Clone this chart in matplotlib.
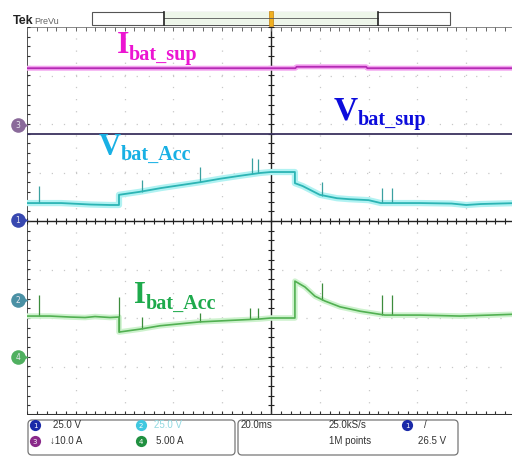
import matplotlib

matplotlib.use("Agg")
import matplotlib.pyplot as plt
import numpy as np
from matplotlib.patches import FancyBboxPatch, Rectangle

# time in ms (20 ms/div, trigger at 0), level in screen divisions (0 = centre line)
cyan_t = [-100, -86, -74, -66, -62.3, -62.3, -54, -45, -37, -29, -21, -13, -4.5, 0, 6, 9.8,
          9.8, 13, 20, 27, 32, 40, 45, 61, 74, 80, 86, 101]
cyan_v = [0.37, 0.37, 0.34, 0.33, 0.33, 0.54, 0.60, 0.68, 0.74, 0.80, 0.87, 0.93, 0.99, 1.01, 1.01, 1.01,
          0.78, 0.72, 0.54, 0.47, 0.45, 0.43, 0.37, 0.37, 0.36, 0.33, 0.35, 0.37]
cyan_spike_t = [-95, -53, -29, -7.8, -5.3, 21, 45.5, 49.6]
cyan_spike_lo = [0.37, 0.60, 0.80, 0.96, 0.98, 0.52, 0.37, 0.37]
cyan_spike_hi = [0.72, 0.85, 1.11, 1.30, 1.28, 0.80, 0.68, 0.68]

green_t = [-100, -90.6, -82.4, -76.2, -72.1, -66, -62.3, -62.3, -53.7, -45.5, -37.3, -29.1, -20.9, -12.7,
           -4.5, 0, 9.8, 9.8, 13.9, 18, 22.1, 28.3, 36.5, 46.7, 61.1, 77.5, 89.8, 101]
green_v = [-1.96, -1.96, -1.98, -1.99, -1.97, -1.99, -1.98, -2.29, -2.23, -2.16, -2.12, -2.08, -2.06, -2.04,
           -2.02, -2.00, -2.00, -1.24, -1.36, -1.55, -1.65, -1.77, -1.86, -1.94, -1.94, -1.96, -1.94, -1.92]
green_spike_t = [-95, -62.3, -53, -29, -8.5, -5.3, 21, 45.5, 49.6]
green_spike_lo = [-1.96, -2.29, -2.23, -2.08, -2.02, -2.02, -1.62, -1.94, -1.94]
green_spike_hi = [-1.53, -1.57, -1.98, -1.90, -1.79, -1.79, -1.27, -1.53, -1.53]

magenta_t = [-100, 10, 10.5, 39, 39.5, 101]
magenta_v = [3.15, 3.15, 3.18, 3.18, 3.15, 3.15]

navy_t = [-100, 101]
navy_v = [1.79, 1.79]

W, H = 512, 458
fig = plt.figure(figsize=(W / 100, H / 100), dpi=100)
fig.patch.set_facecolor("white")

# graticule: 10 x 8 divisions, left edge at x=27px, top at y=27px, ~48.8 px/div
ax = fig.add_axes([27 / W, (H - 415) / H, 488 / W, 388 / H])
ax.set_xlim(-100, 100)
ax.set_ylim(-4, 4)
for s in ax.spines.values():
    s.set_visible(False)
ax.set_xticks([])
ax.set_yticks([])

dots = (0, (1, 8.7))
for gx in np.arange(-80, 100, 20):
    if gx != 0:
        ax.axvline(gx, color="#c8c8c8", lw=0.9, ls=dots, zorder=1)
for gy in np.arange(-3, 4, 1):
    if gy != 0:
        ax.axhline(gy, color="#c8c8c8", lw=0.9, ls=dots, zorder=1)

ax.axvline(0, color="#222222", lw=1.0, zorder=2)
ax.axhline(0, color="#222222", lw=1.0, zorder=2)
ax.axvline(-100, color="#333333", lw=1.2, zorder=2)
ax.axhline(-4, color="#333333", lw=2.2, zorder=2)
ax.axhline(4, color="#888888", lw=0.7, zorder=2)

minor_x = np.arange(-100, 100.1, 4)
minor_y = np.arange(-4, 4.01, 0.2)
ax.vlines(minor_x, -0.06, 0.06, color="#222222", lw=0.8, zorder=2)
ax.vlines(minor_x, 3.92, 4.0, color="#666666", lw=0.7, zorder=2)
ax.vlines(minor_x, -4.0, -3.92, color="#333333", lw=0.8, zorder=2)
ax.hlines(minor_y, -1.2, 1.2, color="#222222", lw=0.8, zorder=2)
ax.hlines(minor_y, -100, -98.8, color="#333333", lw=0.8, zorder=2)

# traces with phosphor glow
ax.plot(magenta_t, magenta_v, color="#f4a4f0", lw=3.6, solid_capstyle="butt", zorder=3)
ax.plot(magenta_t, magenta_v, color="#b42ab4", lw=1.3, zorder=4)

ax.plot(navy_t, navy_v, color="#3a325e", lw=1.3, zorder=4)

ax.plot(cyan_t, cyan_v, color="#b0f2f2", lw=4.5, zorder=3)
ax.vlines(cyan_spike_t, cyan_spike_lo, cyan_spike_hi, color="#3aa0a0", lw=0.9, zorder=4)
ax.plot(cyan_t, cyan_v, color="#2cb4b4", lw=1.3, zorder=4)

ax.plot(green_t, green_v, color="#cdf2cd", lw=4.0, zorder=3)
ax.vlines(green_spike_t, green_spike_lo, green_spike_hi, color="#3c8c3c", lw=0.9, zorder=4)
ax.plot(green_t, green_v, color="#52b052", lw=1.2, zorder=4)

# overlay in pixel coordinates for the screen furniture and labels
ov = fig.add_axes([0, 0, 1, 1])
ov.set_xlim(0, W)
ov.set_ylim(H, 0)
ov.axis("off")

serif = "Liberation Serif"


def trace_label(x, y, big, sub, color, size=23, sub_dy=6):
    t = ov.text(x, y, big, color=color, fontsize=size, family=serif, weight="bold",
                ha="left", va="baseline")
    fig.canvas.draw()
    bb = t.get_window_extent()
    ov.text(bb.x1 / fig.dpi * 100 - 0.5, y + sub_dy, sub, color=color, fontsize=14.5,
            family=serif, weight="bold", ha="left", va="baseline")


trace_label(117, 53, "I", "bat_sup", "#ec14d2", size=23, sub_dy=7)
trace_label(334, 120, "V", "bat_sup", "#0c0cdc", size=24, sub_dy=5)
trace_label(99, 155, "V", "bat_Acc", "#18b0e4", size=22, sub_dy=5)
trace_label(134, 303, "I", "bat_Acc", "#1eaa4c", size=22, sub_dy=6)

# header
ov.text(13, 24, "Tek", fontsize=9, weight="bold", family="Liberation Sans", color="#222222",
        ha="left", va="baseline")
ov.text(34, 23.5, "PreVu", fontsize=6.5, family="Liberation Sans", color="#666666",
        ha="left", va="baseline")
ov.add_patch(Rectangle((92, 12), 358, 13, fill=False, ec="#555555", lw=0.8))
ov.add_patch(Rectangle((164, 12), 214, 13, fc="#eef6ea", ec="none"))
ov.plot([164, 378], [18, 18], color="#555555", lw=0.6)
ov.plot([164, 164], [12, 25], color="#222222", lw=1.2)
ov.plot([378, 378], [12, 25], color="#222222", lw=1.2)
ov.add_patch(Rectangle((269, 11), 4, 15, fc="#f0b020", ec="#c08010", lw=0.5))

# channel ground markers on the left edge
for yy, col, lab in [(125, "#8a6a9a", "3"), (220, "#3848b0", "1"), (300, "#4a90a4", "2"),
                     (357, "#50b060", "4")]:
    ov.scatter([18], [yy], s=110, color=col, marker="o", zorder=5, linewidths=0)
    ov.scatter([22], [yy], s=80, color=col, marker=">", zorder=5, linewidths=0)
    ov.text(18, yy + 0.5, lab, fontsize=5.5, color="#e8e8f0", ha="center", va="center", zorder=6)

# status bar
ov.add_patch(FancyBboxPatch((28, 420), 207, 35, boxstyle="round,pad=0,rounding_size=4",
                            fc="white", ec="#777777", lw=0.9))
ov.add_patch(FancyBboxPatch((238, 420), 220, 35, boxstyle="round,pad=0,rounding_size=4",
                            fc="white", ec="#777777", lw=0.9))


def badge(x, y, col, lab):
    ov.scatter([x], [y], s=65, color=col, zorder=5, linewidths=0)
    ov.text(x, y + 0.5, lab, fontsize=5, color="white", ha="center", va="center", zorder=6)


sans = "Liberation Sans"
badge(35, 425, "#1a2aa8", "1")
ov.text(53, 428.5, "25.0 V", fontsize=7, family=sans, color="#333333", va="baseline")
badge(141, 425, "#40c8e0", "2")
ov.text(154, 428.5, "25.0 V", fontsize=7, family=sans, color="#90d8e0", va="baseline")
badge(35, 441, "#8a2a8a", "3")
ov.text(50, 444.5, "\u219310.0 A", fontsize=7, family=sans, color="#333333", va="baseline")
badge(141, 441, "#209040", "4")
ov.text(156, 444.5, "5.00 A", fontsize=7, family=sans, color="#333333", va="baseline")
ov.text(241, 428.5, "20.0ms", fontsize=7, family=sans, color="#333333", va="baseline")
ov.text(329, 428.5, "25.0kS/s", fontsize=7, family=sans, color="#333333", va="baseline")
ov.text(329, 444.5, "1M points", fontsize=7, family=sans, color="#333333", va="baseline")
badge(407, 425, "#1a2aa8", "1")
ov.text(424, 428.5, "/", fontsize=7, family=sans, color="#333333", va="baseline")
ov.text(418, 444.5, "26.5 V", fontsize=7, family=sans, color="#333333", va="baseline")

fig.savefig("out.png", dpi=100, facecolor="white")
